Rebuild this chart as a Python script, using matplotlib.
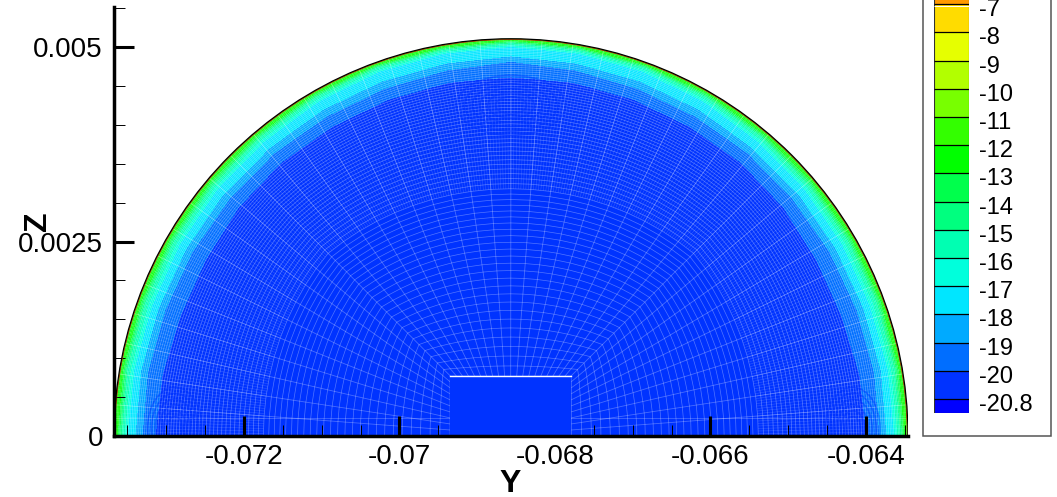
import numpy as np
import matplotlib
matplotlib.use('Agg')
import matplotlib.pyplot as plt
from matplotlib.collections import LineCollection
from matplotlib.patches import Circle, Ellipse, Rectangle

plt.rcParams['font.family'] = ['Liberation Sans', 'DejaVu Sans']

# Contour levels and colours, bottom of the legend to the top
legend_labels = ['-20.8', '-20', '-19', '-18', '-17', '-16', '-15', '-14',
                 '-13', '-12', '-11', '-10', '-9', '-8', '-7']
band_levels = [-20.8, -20, -19, -18, -17, -16, -15, -14, -13, -12, -11, -10, -9, -8]
band_colors = ['#0033ff', '#006eff', '#00aaff', '#00e6ff', '#00ffdc', '#00ffb2',
               '#00ff7f', '#00ff4c', '#00ff00', '#33ff00', '#78ff00', '#b2ff00', '#e6ff00']
below_color = '#0000ff'
gold_color = '#ffdc00'
above_color = '#ff9900'

# Dome geometry
center_y = -0.068566
radius = 0.005106
box_y = [-0.06935, -0.06779]
box_top = 0.00077
faint_z = 0.00023

# Depth below the dome surface of each contour, in 1e-5, read at each angle
angles_deg = [0, 10, 20, 30, 40, 50, 60, 70, 80, 90]
depth_levels = [-13, -15, -17, -18, -19, -20]
depth_table = [
    [4, 9, 17, 27, 36, 53],
    [4, 9, 18, 27, 36, 55],
    [4, 9, 19, 28, 37, 58],
    [4, 9, 18, 28, 37, 57],
    [4, 9, 17, 27, 37, 53],
    [4, 8, 16, 27, 36, 51],
    [3, 7, 14, 26, 36, 51],
    [3, 6, 12, 25, 35, 50],
    [3, 6, 11, 24, 33, 49],
    [2, 5, 10, 22, 29, 49],
]
surface_value = -12.3
core_value = -20.4
core_radius = 0.0005

# Rings in the mesh pattern: centre y, centre z, ring widths, height ratio
ring_spots = [
    (center_y, 0.00425, [0.0004, 0.0006, 0.0008, 0.001, 0.0012, 0.0014], 0.55),
    (-0.07289, 0.00010, [0.0002, 0.0003, 0.0004, 0.0005, 0.0006, 0.0007], 1.5),
    (-0.06417, 0.00010, [0.0002, 0.0003, 0.0004, 0.0005, 0.0006, 0.0007], 1.5),
]

y_major = [0, 0.0025, 0.005]
y_major_labels = ['0', '0.0025', '0.005']
y_minor = [0.0005, 0.001, 0.0015, 0.002, 0.003, 0.0035, 0.004, 0.0045, 0.0055]
x_major = [-0.072, -0.07, -0.068, -0.066, -0.064]
x_major_labels = ['-0.072', '-0.07', '-0.068', '-0.066', '-0.064']
x_minor = [-0.0735, -0.073, -0.0725, -0.0715, -0.071, -0.0705, -0.0695, -0.069, -0.0685,
           -0.0675, -0.067, -0.0665, -0.0655, -0.065, -0.0645, -0.0635]

W, H = 1057, 497
fig = plt.figure(figsize=(W / 100, H / 100), dpi=100)
ax = fig.add_axes([114 / W, 1 - 436 / H, (908 - 114) / W, (436 - 7) / H])
ax.set_xlim(-0.072 - 130 / 77750, -0.072 + 664 / 77750)
ax.set_ylim(0, 429 / 77800)

# Mirror the table about the top of the dome and contour it
depth = np.array(depth_table) * 1e-5
depth = np.vstack([depth, depth[-2::-1]])
theta = np.radians(angles_deg + [180 - a for a in angles_deg[-2::-1]])
radii = radius - depth[:, ::-1]
radii = np.column_stack([np.full(len(theta), core_radius), radii,
                         np.full(len(theta), radius + 6e-5)])
values = [core_value] + depth_levels[::-1] + [surface_value]
Z = np.tile(values, (len(theta), 1))
X = center_y + radii * np.cos(theta)[:, None]
Y = radii * np.sin(theta)[:, None]

dome = Circle((center_y, 0), radius, transform=ax.transData)
cs = ax.contourf(X, Y, Z, levels=band_levels, colors=band_colors, antialiased=False)
cs.set_clip_path(dome)

# O-grid mesh from the box out to the dome
def mesh_lines(n_spokes, n_layers, first=1.0, last=0.12):
    s = np.linspace(0, 1, n_spokes)
    half = box_y[1] - box_y[0]
    perimeter = 2 * box_top + half
    d = s * perimeter
    px = np.where(d < box_top, box_y[1],
                  np.where(d < box_top + half, box_y[1] - (d - box_top), box_y[0]))
    py = np.where(d < box_top, d,
                  np.where(d < box_top + half, box_top, perimeter - d))
    cx = center_y + radius * np.cos(np.pi * s)
    cy = radius * np.sin(np.pi * s)
    t = 1 - np.geomspace(first, last, n_layers)
    t = t / t.max()
    mx = px[None, :] + t[:, None] * (cx - px)[None, :]
    my = py[None, :] + t[:, None] * (cy - py)[None, :]
    return mx, my

mx, my = mesh_lines(41, 80)
arcs = [np.column_stack([mx[i], my[i]]) for i in range(mx.shape[0])]
spokes = [np.column_stack([mx[:, j], my[:, j]]) for j in range(mx.shape[1])]
fx, fy = mesh_lines(321, 80)
fine = [np.column_stack([fx[25:, j], fy[25:, j]]) for j in range(fx.shape[1])]
for segs, lw, a in [(arcs, 0.5, 0.32), (spokes, 0.6, 0.28), (fine, 0.4, 0.18)]:
    lc = LineCollection(segs, colors='white', linewidths=lw, alpha=a, zorder=2)
    ax.add_collection(lc)
    lc.set_clip_path(dome)
faint = ax.plot(ax.get_xlim(), [faint_z, faint_z], color='white', lw=0.5, alpha=0.3, zorder=2)[0]
faint.set_clip_path(dome)

for cy_, cz_, widths, ratio in ring_spots:
    for w in widths:
        ring = Ellipse((cy_, cz_), w, w * ratio, fill=False, ec=band_colors[0], lw=1.1, alpha=0.45, zorder=2.5)
        ax.add_patch(ring)
        ring.set_clip_path(dome)

ax.add_patch(Rectangle((box_y[0], 0), box_y[1] - box_y[0], box_top, fc=band_colors[0], ec='none', zorder=3))
ax.plot(box_y, [box_top, box_top], color='white', lw=1, zorder=4)

# Dome surface
ax.add_patch(Circle((center_y, 0), radius - 1e-5, fill=False, ec='#d83000', lw=0.6, zorder=4))
ax.add_patch(Circle((center_y, 0), radius, fill=False, ec='black', lw=0.9, zorder=4))

# Axes
for side in ['top', 'right']:
    ax.spines[side].set_visible(False)
for side in ['left', 'bottom']:
    ax.spines[side].set_linewidth(2.5)
    ax.spines[side].set_zorder(6)
ax.set_xticks(x_major)
ax.set_xticklabels(x_major_labels)
ax.set_yticks(y_major)
ax.set_yticklabels(y_major_labels)
ax.set_xticks(x_minor, minor=True)
ax.set_yticks(y_minor, minor=True)
ax.tick_params(which='major', direction='in', length=14.4, width=2.2, labelsize=20)
ax.tick_params(which='minor', direction='in', length=8, width=0.7)
ax.tick_params(axis='x', which='major', pad=6)
ax.tick_params(axis='y', which='major', pad=8)
for tick in ax.xaxis.get_major_ticks() + ax.yaxis.get_major_ticks() + ax.xaxis.get_minor_ticks() + ax.yaxis.get_minor_ticks():
    tick.tick1line.set_zorder(6)
ax.set_axisbelow(False)

fig.text(510 / W, 1 - 484 / H, 'Y', fontsize=23, fontweight='bold', ha='center', va='center')
fig.text(38 / W, 1 - 221 / H, 'Z', fontsize=23, fontweight='bold', rotation=90, ha='center', va='center')

# Legend box and colour bar
fig.add_artist(Rectangle((923 / W, 1 - 436 / H), 128 / W, 0.95, transform=fig.transFigure,
                         fc='white', ec='#555555', lw=1.1))
lax = fig.add_axes([933.5 / W, 1 - 413 / H, 35.5 / W, 413 / H], zorder=5)
spacing = 28.2
lax.set_xlim(0, 1)
lax.set_ylim(-14 / spacing, 399 / spacing)
lax.bar(0.5, 14 / spacing, width=1, bottom=-14 / spacing, color=below_color)
lax.bar(0.5, 1, width=1, bottom=np.arange(len(band_colors)), color=band_colors)
lax.bar(0.5, 1, width=1, bottom=13, color=gold_color)
lax.bar(0.5, 1, width=1, bottom=14, color=above_color)
lax.hlines(range(len(legend_labels)), 0, 1, color='black', lw=0.9)
lax.hlines(13.93, 0, 1, color='white', lw=0.7)
lax.add_patch(Rectangle((0, -14 / spacing), 1, 413 / spacing + 14 / spacing, fill=False, ec='#333333', lw=0.8, clip_on=True))
lax.axis('off')
for i, label in enumerate(legend_labels):
    lax.text(1 + 10 / 35.5, i - 6 / spacing, label, transform=lax.get_yaxis_transform(),
             fontsize=17, va='center', clip_on=False)

fig.savefig('out.png', dpi=100)
